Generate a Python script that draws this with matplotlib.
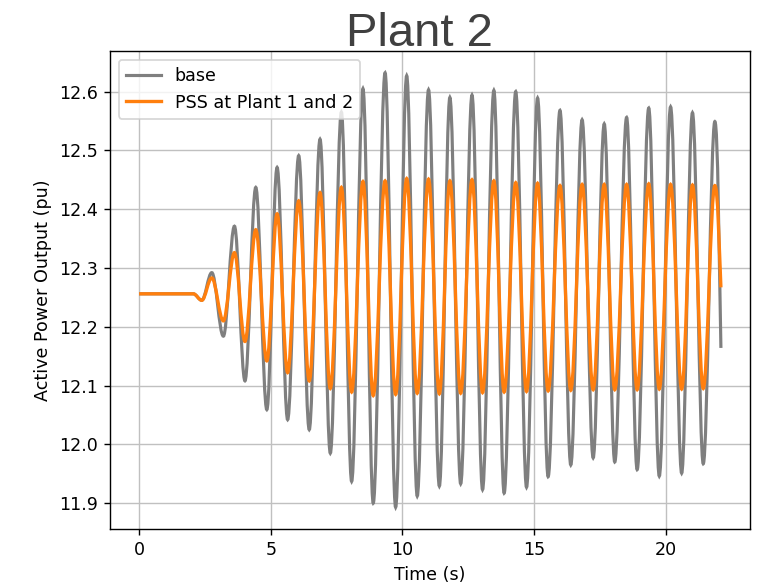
# 功率振荡曲线: Plant 2 有功功率输出对比
import matplotlib
matplotlib.use('Agg')
import matplotlib.pyplot as plt
from matplotlib.path import Path
from matplotlib.patches import PathPatch
from matplotlib.lines import Line2D

# 扰动前的平稳段 (时间, 数值)
flat_t = [0.0, 2.06, 2.38]
flat_v = [12.256, 12.256, 12.245]

# 振荡的波峰/波谷时间 (s)
peak_t = [2.76, 3.62, 4.43, 5.24, 6.06, 6.87, 7.68, 8.50, 9.34, 10.16, 10.99, 11.80,
          12.64, 13.47, 14.30, 15.13, 15.98, 16.82, 17.66, 18.51, 19.35, 20.18, 21.01, 21.86]
trough_t = [3.20, 4.02, 4.85, 5.64, 6.46, 7.26, 8.07, 8.89, 9.74, 10.56, 11.40, 12.21,
            13.04, 13.86, 14.71, 15.53, 16.39, 17.24, 18.06, 18.91, 19.75, 20.60, 21.42]

# base 曲线
base_peak = [12.292, 12.371, 12.437, 12.471, 12.491, 12.519, 12.565, 12.605, 12.632, 12.627,
             12.603, 12.590, 12.594, 12.602, 12.600, 12.589, 12.568, 12.552, 12.545, 12.556,
             12.572, 12.574, 12.564, 12.549]
base_trough = [12.184, 12.108, 12.059, 12.042, 12.025, 11.985, 11.937, 11.900, 11.893, 11.912,
               11.929, 11.933, 11.923, 11.917, 11.927, 11.945, 11.965, 11.977, 11.970, 11.957,
               11.946, 11.951, 11.967]

# PSS at Plant 1 and 2 曲线
pss_peak = [12.283, 12.326, 12.365, 12.392, 12.414, 12.428, 12.437, 12.447, 12.448, 12.452,
            12.451, 12.448, 12.450, 12.448, 12.445, 12.444, 12.440, 12.442, 12.442, 12.442,
            12.443, 12.442, 12.441, 12.440]
pss_trough = [12.210, 12.175, 12.142, 12.122, 12.108, 12.095, 12.089, 12.083, 12.085, 12.087,
              12.086, 12.087, 12.088, 12.089, 12.090, 12.091, 12.092, 12.093, 12.093, 12.093,
              12.094, 12.094, 12.095]

end_t = 22.09
base_end = 12.164
pss_end = 12.267


def wave_path(peaks, troughs, end_v):
    # 极值点交替排列, 用三次贝塞尔曲线连接 (端点处切线水平)
    pts = list(zip(flat_t, flat_v))
    for i in range(len(peak_t)):
        pts.append((peak_t[i], peaks[i]))
        if i < len(trough_t):
            pts.append((trough_t[i], troughs[i]))
    verts = [pts[0], pts[1]]
    codes = [Path.MOVETO, Path.LINETO]
    k = 0.363
    for (t0, v0), (t1, v1) in zip(pts[1:-1], pts[2:]):
        dt = t1 - t0
        verts += [(t0 + k * dt, v0), (t1 - k * dt, v1), (t1, v1)]
        codes += [Path.CURVE4] * 3
    t0, v0 = pts[-1]
    dt = end_t - t0
    verts += [(t0 + 0.5 * dt, v0), (end_t - 0.3 * dt, end_v + 0.4 * (v0 - end_v)), (end_t, end_v)]
    codes += [Path.CURVE4] * 3
    return Path(verts, codes)


fig = plt.figure(figsize=(762 / 126, 586 / 126), dpi=126)
ax = fig.add_subplot(111)
fig.subplots_adjust(left=110 / 762, right=750 / 762, bottom=1 - 529 / 586, top=1 - 51 / 586)

ax.add_patch(PathPatch(wave_path(base_peak, base_trough, base_end), fill=False,
                       edgecolor='tab:gray', linewidth=1.8, zorder=2))
ax.add_patch(PathPatch(wave_path(pss_peak, pss_trough, pss_end), fill=False,
                       edgecolor='tab:orange', linewidth=1.9, zorder=3))
ax.autoscale_view()

handles = [Line2D([], [], color='tab:gray', linewidth=1.8, label='base'),
           Line2D([], [], color='tab:orange', linewidth=1.9, label='PSS at Plant 1 and 2')]
ax.legend(handles=handles, loc='upper left')
ax.grid(True, color='#c0c0c0')
ax.set_xlabel('Time (s)')
ax.set_ylabel('Active Power Output (pu)')

fig.text(419 / 762, 1 - 46 / 586, 'Plant 2', ha='center', va='baseline', fontsize=27,
         family='Liberation Sans', color='#404040')

plt.savefig('out.png', dpi=126)
